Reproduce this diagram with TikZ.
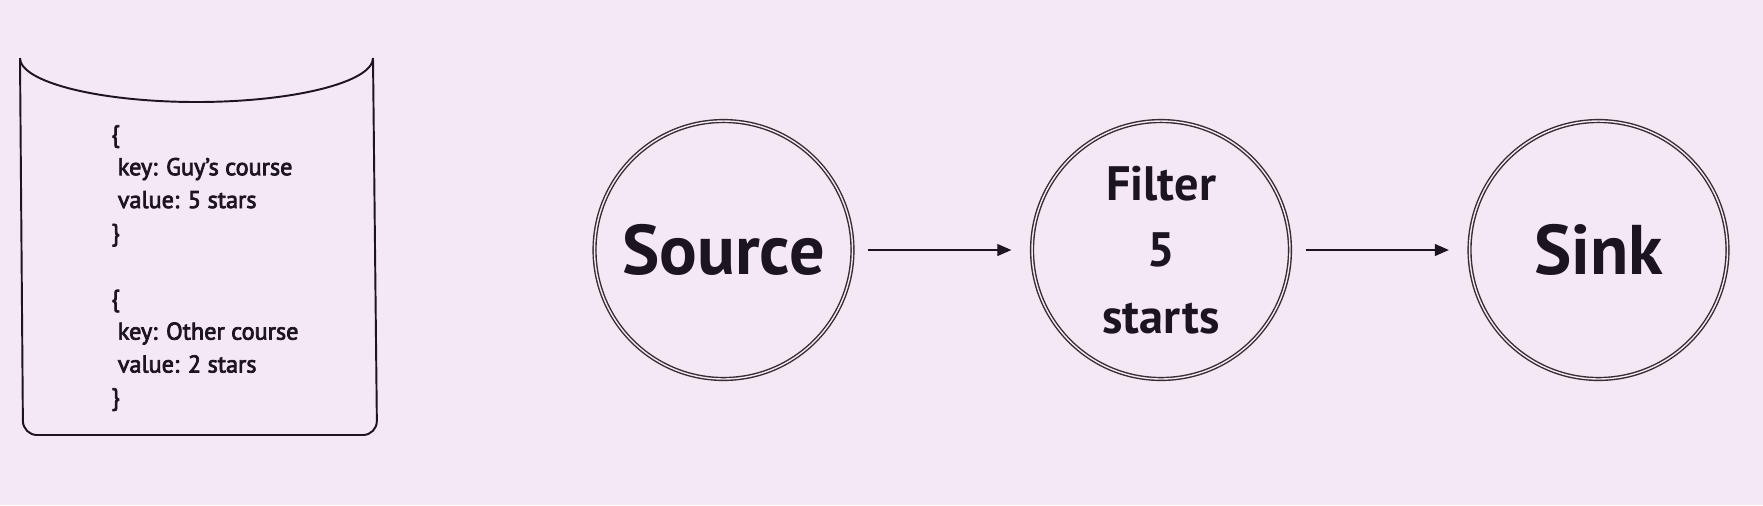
\documentclass[tikz,border=0pt]{standalone}
\usepackage{fontspec}
\setmainfont{PT Sans}
\newfontfamily\recfont{PT Sans}[FakeBold=3]
\usetikzlibrary{arrows.meta,positioning}
\definecolor{mbg}{HTML}{F3E8F4}
\definecolor{ink}{HTML}{1C1420}
\definecolor{ring}{HTML}{332C31}
\tikzset{
  stage/.style={circle, draw=ring, line width=0.8pt, double=mbg, double distance=0.8pt,
                minimum size=5.16cm, inner sep=0pt, align=center, text=ink,
                font=\bfseries\fontsize{40}{46}\selectfont},
  stagem/.style={stage, font=\bfseries\fontsize{27.5}{38}\selectfont},
  rec/.style ={anchor=north west, inner sep=0pt, align=left, text=ink,
               font=\recfont\fontsize{13.8}{18.7}\selectfont},
  db/.style  ={draw=ink, line width=1.1pt},
  ar/.style  ={-{Triangle[length=2.8mm, width=2.4mm]}, line width=0.6pt, draw=ink,
               shorten <=3mm, shorten >=4mm},
}

\begin{document}
\begin{tikzpicture}[x=0.02cm, y=-0.02cm]
\useasboundingbox[fill=mbg] (0,0) rectangle (1763,505);

% ============ store ==========================================================
\draw[db, rounded corners=8pt] (20,58) -- (23,435) -- (377,435) -- (373,58);
\draw[db] (20,58) .. controls (20,82) and (99,102) .. (196.5,102)
                  .. controls (294,102) and (373,82) .. (373,58);
\node[rec] (recs) at (111,125) {%
  \{\\ \ key: Guy’s course\\ \ value: 5 stars\\ \}\\[0.66cm]
  \{\\ \ key: Other course\\ \ value: 2 stars\\ \}};

% ============ pipeline =======================================================
\node[stage]  (src) at (723.5,250) {Source};
\node[stagem] (flt) at (1161,250) {Filter\\5\\starts};
\node[stage]  (snk) at (1598.5,250) {Sink};
\draw[ar] (src) -- (flt);
\draw[ar] (flt) -- (snk);

\end{tikzpicture}
\end{document}
